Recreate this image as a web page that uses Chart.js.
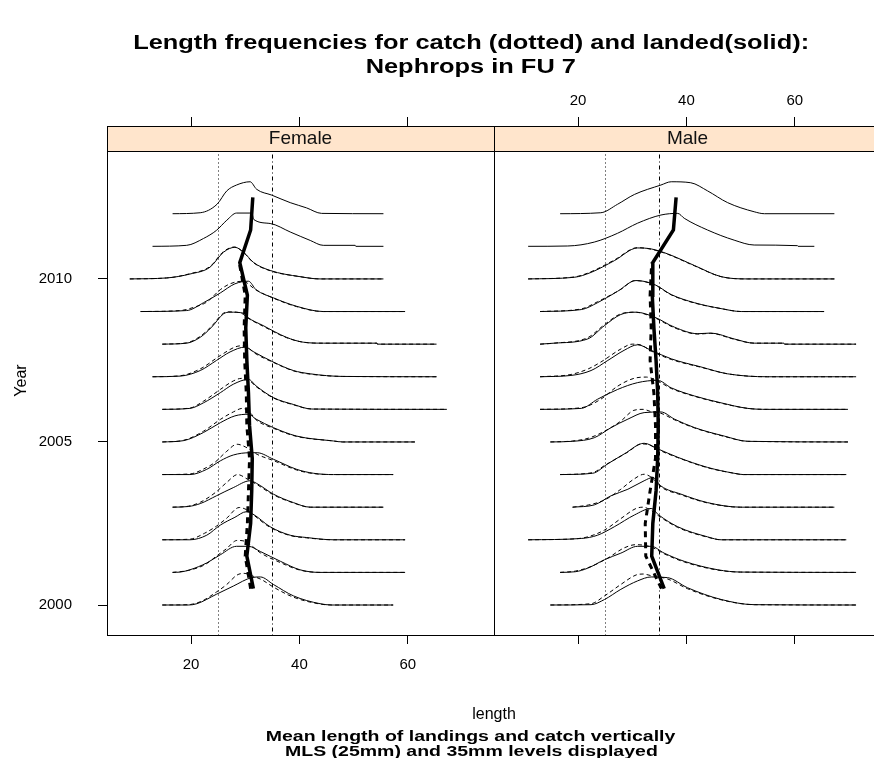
<!DOCTYPE html>
<html>
<head>
<meta charset="utf-8">
<script src="https://cdn.jsdelivr.net/npm/chart.js@4.4.1/dist/chart.umd.min.js"></script>
<style>
html, body { margin: 0; padding: 0; background: #fff; }
#page { position: relative; width: 874px; height: 758px; overflow: hidden; background: #fff;
        font-family: "Liberation Sans", Arial, sans-serif; color: #000; }
#page canvas { position: absolute; top: 0; }
.txt { position: absolute; left: 0; text-align: center; white-space: nowrap; }
.txt span { display: inline-block; transform-origin: center; }
</style>
</head>
<body>
<div id="page">
  <canvas id="femalePanel" width="500" height="758" style="left:0"></canvas>
  <canvas id="malePanel" width="500" height="758" style="left:394px"></canvas>
  <div class="txt" style="top:30px;width:942px;font-weight:bold;font-size:20px;line-height:24px;">
    <span style="transform:scaleX(1.27)">Length frequencies for catch (dotted) and landed(solid):</span><br>
    <span style="transform:scaleX(1.27)">Nephrops in FU 7</span>
  </div>
  <div class="txt" style="top:704px;width:988px;font-size:16px;line-height:20px;">length</div>
  <div class="txt" style="top:728px;width:942px;font-weight:bold;font-size:15px;line-height:15px;">
    <span style="transform:scaleX(1.3)">Mean length of landings and catch vertically</span><br>
    <span style="transform:scaleX(1.3)">MLS (25mm) and 35mm levels displayed</span>
  </div>
</div>
<script>
// ---- axes ----
const years = [2000, 2001, 2002, 2003, 2004, 2005, 2006, 2007, 2008, 2009, 2010, 2011, 2012];
const catchYears = [2000, 2001, 2002, 2003, 2004, 2005, 2006, 2007, 2008, 2009, 2010];
const lengthTicks = [20, 40, 60];
const yearTicks = [2000, 2005, 2010];
const mlsLevels = [25, 35];
const panelNames = ['Female', 'Male'];

// ---- mean lengths (mm), one per year ----
const femaleLandedMean = [31.5, 30.3, 31.0, 31.2, 31.3, 30.8, 30.6, 30.3, 30.1, 30.4, 29.0, 31.0, 31.4];
const femaleCatchMean  = [31.0, 30.0, 30.4, 30.6, 30.8, 30.3, 30.2, 29.9, 29.8, 30.0, 28.9];
const maleLandedMean   = [35.9, 33.6, 33.8, 34.4, 34.7, 34.8, 34.7, 34.4, 34.0, 33.7, 33.8, 37.6, 38.1];
const maleCatchMean    = [35.4, 32.5, 32.4, 33.3, 34.3, 34.3, 34.0, 33.3, 33.5, 33.3, 33.6];

// ---- length frequency curves: [length mm, relative frequency] per year ----
const femaleLanded = [
  [[14.7,0],[19.5,0],[21.1,0.04],[24.7,0.33],[27.8,0.58],[31.2,0.84],[32.8,0.86],[35.2,0.63],[38.9,0.28],[43.8,0.04],[46,0],[57.3,0]],
  [[16.6,0],[18,0.01],[19.8,0.08],[22.9,0.29],[25.4,0.54],[28.4,0.8],[30.6,0.8],[32.8,0.64],[36.5,0.34],[40.1,0.08],[43.8,0],[59.5,0]],
  [[14.7,0],[19.8,0],[22.9,0.14],[25.4,0.45],[28.1,0.69],[30.2,0.86],[31.4,0.79],[34.6,0.4],[38.3,0.14],[41.3,0.07],[46.3,0],[59.5,0]],
  [[16.6,0],[19.5,0.02],[21.7,0.11],[24.7,0.35],[27.8,0.6],[30.9,0.81],[32.1,0.73],[35.2,0.4],[38.9,0.14],[42,0],[55.5,0]],
  [[14.7,0],[19.8,0],[22.9,0.16],[25.4,0.42],[27.8,0.6],[30.9,0.67],[32.2,0.67],[35.2,0.47],[39.5,0.16],[42.6,0.04],[46.3,0],[57.3,0]],
  [[14.7,0],[18.6,0.04],[22.3,0.29],[25.4,0.59],[28.1,0.8],[30.6,0.85],[32,0.7],[35.2,0.44],[39.5,0.18],[46.3,0.03],[48,0],[61.3,0]],
  [[14.7,0],[19.8,0.03],[22.3,0.2],[25.4,0.51],[27.8,0.77],[30.6,0.92],[32,0.72],[35.2,0.36],[38.9,0.15],[42.3,0.01],[67.2,0]],
  [[12.9,0],[18,0.02],[21.7,0.19],[24.7,0.5],[27.2,0.76],[30,0.91],[31.6,0.76],[35.2,0.45],[38.9,0.19],[42,0.09],[48,0.01],[65.3,0]],
  [[14.7,0],[19.2,0.03],[21.7,0.21],[23.8,0.52],[26,0.93],[27.2,0.98],[29.7,0.95],[30.4,0.83],[33.3,0.57],[37.6,0.21],[40.7,0.06],[44.4,0.03],[54.3,0.03],[54.4,0],[65.3,0]],
  [[10.7,0],[19.2,0.03],[22.3,0.27],[25.4,0.57],[28.1,0.85],[30.6,0.93],[32,0.67],[35.2,0.42],[39.5,0.16],[44.4,0],[59.5,0]],
  [[8.7,0],[15.5,0.03],[19.8,0.15],[23.5,0.36],[26,0.82],[28.1,0.97],[29.7,0.82],[31.5,0.51],[34.6,0.26],[40.1,0.07],[43.8,0],[55.5,0]],
  [[12.9,0],[19.2,0.03],[22.3,0.24],[24.7,0.49],[26.6,0.8],[28.4,1.02],[31.2,1.02],[31.6,0.82],[34.6,0.7],[38.3,0.44],[42,0.18],[44.4,0.03],[50.3,0.03],[50.4,0],[55.5,0]],
  [[16.6,0],[21.7,0.03],[24.8,0.29],[26.6,0.7],[28.4,0.88],[30.9,0.98],[32.1,0.75],[34.9,0.57],[38.3,0.34],[41.3,0.18],[44.1,0.01],[55.5,0]]
];
const femaleCatch = [
  [[14.7,0],[19.5,0.01],[22,0.12],[24.7,0.4],[26.6,0.63],[28.5,0.92],[29.8,0.97],[31.5,0.88],[33,0.78],[35.2,0.55],[38.9,0.24],[43.8,0.03],[46,0],[57.3,0]],
  [[16.6,0],[19.5,0.06],[22.6,0.24],[24.7,0.5],[26.5,0.72],[28.5,0.98],[30,0.95],[32.8,0.6],[36.5,0.3],[40.1,0.07],[43.8,0],[59.5,0]],
  [[14.7,0],[19.8,0.02],[22.5,0.2],[24.7,0.42],[26.5,0.65],[28.9,0.99],[30.5,0.9],[31.4,0.78],[34.6,0.38],[38.3,0.13],[41.3,0.06],[46.3,0],[59.5,0]],
  [[16.6,0],[19.5,0.03],[21.7,0.15],[24.5,0.45],[26.6,0.76],[28.6,1.0],[30.5,0.85],[32.1,0.7],[35.2,0.38],[38.9,0.13],[42,0],[55.5,0]],
  [[14.7,0],[19.8,0.02],[22.9,0.22],[24.3,0.36],[26.5,0.7],[28.5,0.93],[30,0.85],[32.2,0.62],[35.2,0.43],[39.5,0.14],[42.6,0.03],[46.3,0],[57.3,0]],
  [[14.7,0],[18.6,0.05],[22.3,0.33],[25.4,0.69],[27.8,0.92],[29.5,1.03],[31,0.88],[32,0.68],[35.2,0.42],[39.5,0.17],[46.3,0.03],[48,0],[61.3,0]],
  [[14.7,0],[19.8,0.04],[22.3,0.25],[25.4,0.61],[27.8,0.87],[29.3,0.95],[30.8,0.88],[32,0.7],[35.2,0.35],[38.9,0.14],[42.3,0.01],[67.2,0]],
  [[12.9,0],[18,0.03],[21.7,0.24],[25.4,0.65],[28.1,0.91],[29.3,0.95],[30.8,0.85],[31.6,0.74],[35.2,0.44],[38.9,0.18],[42,0.08],[48,0.01],[65.3,0]],
  [[14.7,0],[19.2,0.04],[21.7,0.24],[23.8,0.55],[26,0.95],[27.2,0.99],[29.5,0.93],[30.4,0.81],[33.3,0.55],[37.6,0.2],[40.7,0.06],[44.4,0.03],[54.3,0.03],[54.4,0],[65.3,0]],
  [[10.7,0],[18,0.03],[20.7,0.14],[22.9,0.29],[25.4,0.67],[27.2,0.85],[29.5,0.93],[32,0.66],[35.2,0.41],[39.5,0.15],[44.4,0],[59.5,0]],
  [[8.7,0],[15.5,0.03],[19.8,0.16],[23.5,0.38],[26,0.84],[28,0.98],[29.7,0.81],[31.5,0.5],[34.6,0.25],[40.1,0.07],[43.8,0],[55.5,0]]
];
const maleLanded = [
  [[14.9,0],[22.4,0.01],[24.9,0.17],[27.9,0.48],[31,0.74],[33.5,0.86],[36.5,0.84],[40.2,0.53],[46.4,0.17],[52.5,0.01],[71.3,0]],
  [[16.7,0],[19.5,0.02],[21.8,0.13],[24.9,0.39],[27.9,0.59],[31,0.8],[33.5,0.8],[35.9,0.59],[39.6,0.34],[45.8,0.08],[50,0.01],[71.3,0]],
  [[10.8,0],[20.6,0.04],[23.6,0.14],[26.7,0.4],[30.4,0.76],[33.5,0.96],[34.9,0.76],[38.4,0.4],[43.9,0.09],[46.4,0],[69.5,0]],
  [[19,0],[23,0.07],[26.1,0.35],[29.2,0.55],[32.2,0.81],[33.8,0.91],[35.3,0.65],[39,0.4],[43.9,0.14],[50,0],[67.3,0]],
  [[16.7,0],[22.7,0.04],[25.5,0.33],[28.5,0.63],[32.2,0.96],[34.7,0.79],[38.4,0.53],[43.9,0.22],[48.8,0.04],[50.5,0],[69.5,0]],
  [[14.9,0],[19,0.02],[23,0.13],[26.1,0.44],[29.2,0.7],[32.2,0.9],[35.3,0.92],[37.8,0.7],[41.5,0.44],[47,0.18],[51.3,0.02],[69.8,0]],
  [[13,0],[20.6,0.03],[23.6,0.31],[27.3,0.61],[31,0.82],[34.7,0.89],[37.2,0.66],[41.5,0.41],[46.4,0.2],[51.3,0.03],[55,0],[69.8,0]],
  [[13,0],[18.7,0.04],[22.4,0.19],[25.5,0.5],[28.5,0.81],[31,0.98],[33.5,0.81],[37.2,0.55],[42.7,0.3],[47.6,0.09],[55,0],[71.3,0]],
  [[13,0],[15.6,0.03],[21.8,0.16],[24.9,0.57],[27.9,0.91],[30.7,0.98],[34.1,0.83],[37.8,0.52],[42.1,0.32],[44.5,0.34],[48.8,0.16],[52.5,0.03],[58,0.03],[58.1,0],[71.3,0]],
  [[13,0],[20.6,0.06],[23.6,0.27],[27.3,0.62],[30.7,0.95],[34.1,0.83],[37.2,0.52],[41.5,0.27],[46.4,0.09],[50.1,0],[65.4,0]],
  [[10.8,0],[19.3,0.05],[22.4,0.2],[26.7,0.56],[31,0.95],[33.5,0.92],[36.5,0.77],[41.5,0.41],[46.4,0.07],[51.3,0],[67.3,0]],
  [[10.8,0],[18.1,0.01],[23,0.13],[27.3,0.4],[31,0.71],[35.3,0.96],[38.4,1.01],[39.6,0.86],[43.9,0.5],[48.8,0.19],[52.5,0.04],[60.5,0.02],[60.6,0],[63.6,0]],
  [[16.7,0],[24.2,0.03],[27.3,0.29],[30.4,0.59],[35.3,0.88],[37.2,0.98],[40.8,0.95],[43.9,0.7],[47.6,0.34],[52.5,0.06],[54.4,0],[67.3,0]]
];
const maleCatch = [
  [[14.9,0],[22.4,0.04],[24.9,0.28],[27.9,0.63],[30.7,0.92],[32,0.95],[33.5,0.9],[36.5,0.8],[40.2,0.5],[46.4,0.16],[52.5,0.01],[71.3,0]],
  [[16.7,0],[19.5,0.04],[22.4,0.18],[25.5,0.44],[28.5,0.75],[30.7,0.85],[33.5,0.78],[35.9,0.57],[39.6,0.32],[45.8,0.07],[50,0.01],[71.3,0]],
  [[10.8,0],[19.5,0.03],[21.8,0.09],[24.9,0.3],[27.9,0.65],[30.7,0.96],[32,1.0],[33.5,0.9],[34.9,0.73],[38.4,0.38],[43.9,0.08],[46.4,0],[69.5,0]],
  [[19,0],[22,0.07],[24.9,0.22],[27.9,0.55],[30.3,0.86],[32.2,1.01],[33.8,0.88],[35.3,0.62],[39,0.38],[43.9,0.13],[50,0],[67.3,0]],
  [[16.7,0],[22.7,0.06],[24.9,0.28],[29.2,0.69],[31.7,0.94],[32.8,0.93],[34.7,0.77],[38.4,0.52],[43.9,0.21],[48.8,0.04],[50.5,0],[69.5,0]],
  [[14.9,0],[19,0.03],[22,0.12],[25,0.34],[27.9,0.64],[30.3,0.97],[32,1.0],[33.5,0.93],[35.3,0.88],[37.8,0.68],[41.5,0.43],[47,0.17],[51.3,0.02],[69.8,0]],
  [[13,0],[20.6,0.05],[24.2,0.31],[27.3,0.71],[30.3,0.95],[32.6,0.99],[34.7,0.87],[37.2,0.64],[41.5,0.4],[46.4,0.19],[51.3,0.03],[55,0],[69.8,0]],
  [[13,0],[18.7,0.07],[22,0.25],[24.2,0.45],[28,0.86],[30,1.0],[31.5,0.98],[33.5,0.79],[37.2,0.53],[42.7,0.29],[47.6,0.09],[55,0],[71.3,0]],
  [[13,0],[15.6,0.03],[21.8,0.2],[24.9,0.6],[27.9,0.93],[30.5,0.98],[34.1,0.81],[37.8,0.5],[42.1,0.31],[44.5,0.33],[48.8,0.15],[52.5,0.03],[58,0.03],[58.1,0],[71.3,0]],
  [[13,0],[20.6,0.08],[23.6,0.3],[27.9,0.68],[30.5,0.95],[34.1,0.82],[37.2,0.51],[41.5,0.26],[46.4,0.09],[50.1,0],[65.4,0]],
  [[10.8,0],[19.3,0.06],[22.4,0.22],[26.7,0.58],[31,0.96],[33.5,0.91],[36.5,0.76],[41.5,0.4],[46.4,0.07],[51.3,0],[67.3,0]]
];

// ---- drawing settings ----
const lengthRange = [4.5, 75.9];
const yearRange = [1999.08, 2014.69];   // top part of the range holds the strip
const stripHeight = 24.5;
const meanOffset = 0.5;                 // means sit half a year above each baseline
const tickFont = { family: '"Liberation Sans", Arial, sans-serif', size: 15 };
const ink = '#000';

function curve(points, year) {
  return points.map(([len, f]) => ({ x: len, y: year + f }));
}

function buildDatasets(landed, caught, landedMean, catchMean) {
  const sets = [];
  years.forEach((yr, i) => {
    sets.push({ data: curve(landed[i], yr), borderColor: ink, borderWidth: 1,
      pointRadius: 0, cubicInterpolationMode: 'monotone', fill: false });
  });
  catchYears.forEach((yr, i) => {
    sets.push({ data: curve(caught[i], yr), borderColor: ink, borderWidth: 1, borderDash: [4, 3],
      pointRadius: 0, cubicInterpolationMode: 'monotone', fill: false });
  });
  sets.push({ data: years.map((yr, i) => ({ x: landedMean[i], y: yr + meanOffset })),
    borderColor: ink, borderWidth: 3.5, pointRadius: 0, tension: 0, fill: false });
  sets.push({ data: catchYears.map((yr, i) => ({ x: catchMean[i], y: yr + meanOffset })),
    borderColor: ink, borderWidth: 3, borderDash: [6, 5], pointRadius: 0, tension: 0, fill: false });
  return sets;
}

// strip, frame and MLS reference lines
const panelDecor = {
  id: 'panelDecor',
  beforeDatasetsDraw(chart, args, opts) {
    const { ctx, chartArea: a } = chart;
    const xs = chart.scales.x;
    const dashes = [[1, 3], [1, 3, 4, 3]];
    ctx.save();
    ctx.strokeStyle = ink;
    ctx.lineWidth = 1;
    mlsLevels.forEach((v, i) => {
      const px = Math.round(xs.getPixelForValue(v)) + 0.5;
      ctx.setLineDash(dashes[i]);
      ctx.beginPath();
      ctx.moveTo(px, a.top + stripHeight);
      ctx.lineTo(px, a.bottom);
      ctx.stroke();
    });
    ctx.restore();
  },
  afterDraw(chart, args, opts) {
    const { ctx, chartArea: a } = chart;
    const l = Math.round(a.left) + 0.5, r = Math.round(a.right) + 0.5;
    const t = Math.round(a.top) + 0.5, b = Math.round(a.bottom) + 0.5;
    const sb = Math.round(a.top + stripHeight) + 0.5;
    ctx.save();
    ctx.fillStyle = '#ffe5cc';
    ctx.fillRect(l, t, r - l, sb - t);
    ctx.strokeStyle = ink;
    ctx.lineWidth = 1;
    ctx.setLineDash([]);
    ctx.strokeRect(l, t, r - l, b - t);
    ctx.beginPath();
    ctx.moveTo(l, sb); ctx.lineTo(r, sb);
    ctx.stroke();
    ctx.fillStyle = '#111';
    ctx.font = '19px "Liberation Sans", Arial, sans-serif';
    ctx.textAlign = 'center';
    ctx.textBaseline = 'middle';
    ctx.fillText(opts.label, (a.left + a.right) / 2, a.top + stripHeight / 2 + 1);
    ctx.restore();
  }
};

function fixedTicks(values) {
  return scale => { scale.ticks = values.map(v => ({ value: v })); };
}

function lengthScale(position, showLabels, boxHeight) {
  return {
    type: 'linear', position, min: lengthRange[0], max: lengthRange[1],
    afterBuildTicks: fixedTicks(lengthTicks),
    afterFit: s => { s.height = boxHeight; },
    ticks: { display: showLabels, color: ink, font: tickFont, padding: position === 'top' ? 7 : 12,
             maxRotation: 0, autoSkip: false, callback: v => String(v) },
    grid: { drawOnChartArea: false, drawTicks: true, tickLength: 9, color: ink, lineWidth: 1 },
    border: { display: false }
  };
}

function makePanel(canvasId, label, datasets, side) {
  const isLeft = side === 'left';
  const scales = {
    x: lengthScale('bottom', isLeft, 758 - 635),
    xTop: lengthScale('top', !isLeft, 126),
    y: {
      type: 'linear', position: 'left', min: yearRange[0], max: yearRange[1],
      display: isLeft,
      afterBuildTicks: fixedTicks(yearTicks),
      afterFit: s => { s.width = isLeft ? 107 : 0; },
      ticks: { color: ink, font: tickFont, padding: 26, callback: v => String(v) },
      grid: { drawOnChartArea: false, drawTicks: true, tickLength: 9, color: ink, lineWidth: 1 },
      border: { display: false },
      title: { display: true, text: 'Year', color: ink,
               font: { family: '"Liberation Sans", Arial, sans-serif', size: 16 }, padding: { top: 12, bottom: 0 } }
    }
  };
  return new Chart(document.getElementById(canvasId), {
    type: 'line',
    data: { datasets: datasets.map(d => Object.assign(d, { xAxisID: 'x', yAxisID: 'y' })) },
    options: {
      responsive: false, animation: false, parsing: false, normalized: true,
      layout: { padding: isLeft ? { left: 0, right: 6, top: 0, bottom: 0 }
                                : { left: 100, right: 13, top: 0, bottom: 0 } },
      plugins: { legend: { display: false }, tooltip: { enabled: false }, title: { display: false },
                 panelDecor: { label } },
      scales
    },
    plugins: [panelDecor]
  });
}

makePanel('femalePanel', panelNames[0],
  buildDatasets(femaleLanded, femaleCatch, femaleLandedMean, femaleCatchMean), 'left');
makePanel('malePanel', panelNames[1],
  buildDatasets(maleLanded, maleCatch, maleLandedMean, maleCatchMean), 'right');
</script>
</body>
</html>
